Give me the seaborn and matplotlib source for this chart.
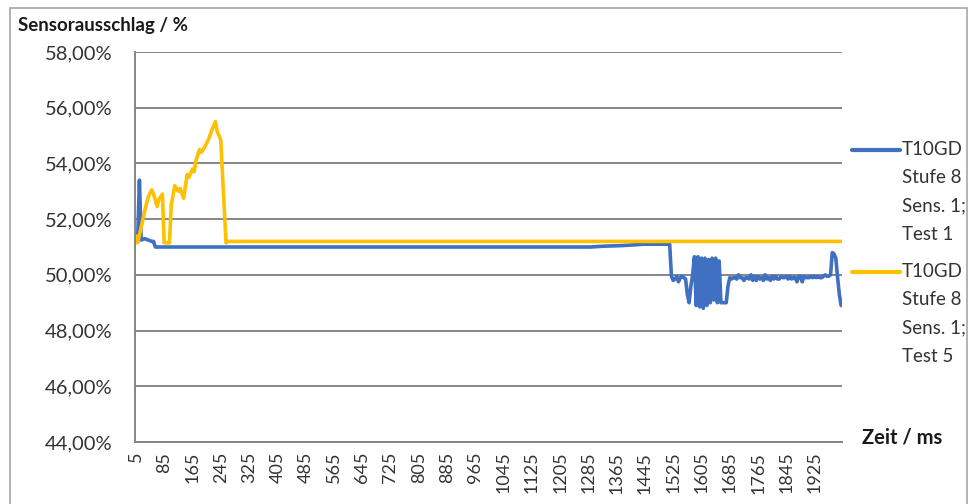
import numpy as np
import pandas as pd
import matplotlib
matplotlib.use("Agg")
import matplotlib.pyplot as plt
from matplotlib.lines import Line2D
from matplotlib.patches import Rectangle
from matplotlib.ticker import FuncFormatter, FixedLocator
import seaborn as sns

# --- data: sensor deflection (%) over time (ms) ---
zeit_test1 = [5, 10, 15, 20, 30, 40, 50, 55, 60, 1290, 1330, 1380, 1420, 1440, 1515,
              1520, 1525, 1530, 1535, 1540, 1545, 1550, 1555, 1560, 1565, 1570, 1575,
              1580, 1585, 1590, 1595, 1600, 1605, 1610, 1615, 1620, 1625, 1630, 1635,
              1640, 1645, 1650, 1655, 1660, 1665, 1670, 1675, 1680, 1685,
              1690, 1695, 1700, 1705, 1710, 1715, 1720, 1725, 1730, 1735, 1740, 1745,
              1750, 1755, 1760, 1765, 1770, 1775, 1780, 1785, 1790, 1795, 1800, 1805,
              1810, 1815, 1820, 1825, 1830, 1835, 1840, 1845, 1850, 1855, 1860, 1865,
              1870, 1875, 1880, 1885, 1890, 1895, 1900, 1905, 1910, 1915, 1920, 1925,
              1930, 1935, 1940, 1945, 1950, 1955, 1960, 1965, 1970, 1975, 1980, 1985,
              1990, 1995, 2000]
wert_test1 = [51.2, 51.25, 53.4, 51.25, 51.3, 51.25, 51.2, 51.2, 51.0, 51.0, 51.03, 51.05, 51.08, 51.1, 51.1,
              49.95, 49.8, 49.85, 49.95, 49.75, 49.9, 49.95, 49.9, 49.85, 49.3, 49.0, 49.6,
              50.0, 50.65, 48.9, 50.65, 48.85, 50.6, 48.8, 50.6, 48.9, 50.55, 49.0, 50.6,
              49.1, 50.6, 49.0, 50.5, 49.0, 49.0, 49.0, 49.0, 49.6, 49.9,
              49.85, 49.9, 49.9, 49.85, 50.0, 49.9, 49.9, 49.8, 49.9, 49.9, 49.85, 50.0,
              49.8, 49.95, 49.8, 49.95, 49.85, 49.9, 49.8, 50.0, 49.85, 49.9, 49.8, 49.95,
              49.85, 49.95, 49.85, 49.85, 49.95, 49.9, 49.9, 49.95, 49.85, 49.95, 49.85, 49.9,
              49.9, 49.75, 49.95, 49.95, 49.75, 49.95, 49.9, 49.9, 49.9, 49.95, 49.9, 49.95,
              49.9, 49.95, 49.9, 49.9, 49.95, 50.0, 49.95, 49.95, 50.0, 50.8, 50.75, 50.6,
              49.9, 49.3, 48.9]

zeit_test5 = [5, 10, 20, 30, 40, 50, 55, 65, 70, 80, 85, 100, 105, 115, 125, 130, 140,
              150, 155, 165, 170, 175, 185, 190, 200, 210, 220, 230, 235, 245, 260, 265, 2000]
wert_test5 = [51.4, 51.15, 51.7, 52.3, 52.8, 53.05, 52.9, 52.45, 52.7, 52.9, 51.15, 51.15, 52.5,
              53.2, 53.0, 53.1, 52.75, 53.6, 53.5, 53.8, 53.7, 54.1, 54.5, 54.4, 54.6, 54.85,
              55.2, 55.5, 55.15, 54.85, 51.15, 51.2, 51.2]

serien = ["T10GD\nStufe 8\nSens. 1;\nTest 1", "T10GD\nStufe 8\nSens. 1;\nTest 5"]
farben = ["#3F70C1", "#FFC000"]
x_labels = list(range(5, 2000, 80))
y_ticks = [44, 46, 48, 50, 52, 54, 56, 58]

df = pd.concat([
    pd.DataFrame({"Zeit": zeit_test1, "Wert": wert_test1, "Serie": serien[0]}),
    pd.DataFrame({"Zeit": zeit_test5, "Wert": wert_test5, "Serie": serien[1]}),
])

sns.set_style("white")
plt.rcParams["font.family"] = ["Lato", "DejaVu Sans"]

fig = plt.figure(figsize=(9.73, 5.04), dpi=100)
ax = fig.add_axes([135 / 973, 1 - 442 / 504, (842 - 135) / 973, (442 - 52) / 504])

sns.lineplot(data=df, x="Zeit", y="Wert", hue="Serie", palette=farben,
             linewidth=2.6, ax=ax, legend=False, estimator=None, sort=False)

# axes
ax.set_xlim(2.5, 2002.5)
ax.set_ylim(44, 58)
ax.set_yticks(y_ticks)
ax.yaxis.set_major_formatter(FuncFormatter(lambda v, p: f"{v:.2f}".replace(".", ",") + "%"))
ax.set_xticks(x_labels)
ax.set_xticklabels([str(v) for v in x_labels], rotation=90)
ax.xaxis.set_minor_locator(FixedLocator(np.arange(2.5, 2003, 50)))
ax.tick_params(axis="x", which="major", length=0, pad=7, labelsize=13, colors="#333333")
ax.tick_params(axis="x", which="minor", length=6, width=1.2, color="#868686", direction="out")
ax.tick_params(axis="y", which="major", length=7, width=1.2, color="#868686",
               direction="out", pad=9, labelsize=14.5, labelcolor="#333333")
ax.grid(axis="y", color="#868686", linewidth=1.4)
ax.set_axisbelow(True)
for s in ["top", "right"]:
    ax.spines[s].set_visible(False)
for s in ["left", "bottom"]:
    ax.spines[s].set_color("#868686")
    ax.spines[s].set_linewidth(1.4)
ax.set_xlabel("")
ax.set_ylabel("")

# titles
fig.text(18 / 973, 1 - 25 / 504, "Sensorausschlag / %", fontsize=13.5, fontweight="bold",
         color="#1a1a1a", va="center", ha="left")
fig.text(862 / 973, 1 - 437 / 504, "Zeit / ms", fontsize=14.5, fontweight="bold",
         color="#1a1a1a", va="center", ha="left")

# legend
for i, (lab, col) in enumerate(zip(serien, farben)):
    y0 = 150 + i * 122
    fig.add_artist(Line2D([852 / 973, 900 / 973], [1 - y0 / 504, 1 - y0 / 504],
                          color=col, linewidth=3, transform=fig.transFigure))
    fig.text(902 / 973, 1 - (y0 - 9) / 504, lab, fontsize=13.5, color="#333333",
             va="top", ha="left", linespacing=1.8)

# chart border
fig.add_artist(Rectangle((10 / 973, -0.02), (967 - 10) / 973, 1 - 8 / 504 + 0.02,
                         transform=fig.transFigure, fill=False, edgecolor="#A6A6A6",
                         linewidth=1.2))

fig.savefig("out.png", dpi=100)
